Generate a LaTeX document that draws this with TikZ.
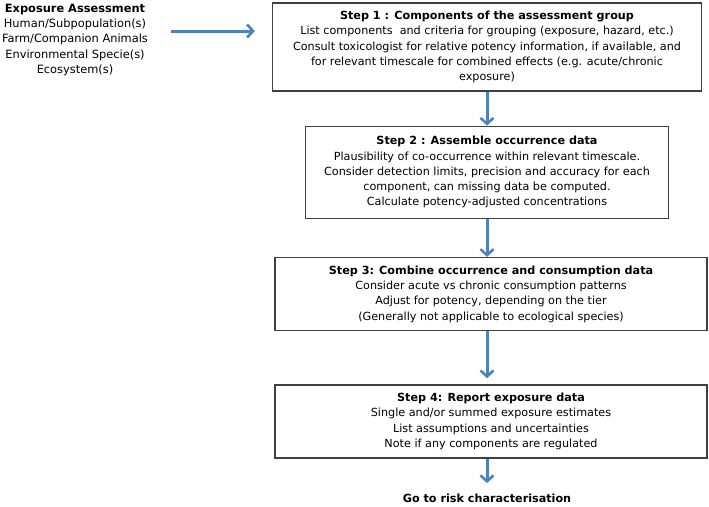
\documentclass[tikz,border=0pt]{standalone}
\usepackage{fontspec}
\setmainfont{DejaVu Sans}
\usetikzlibrary{positioning,arrows.meta}
\definecolor{arrowblue}{RGB}{79,129,189}
\tikzstyle{stepbox} = [rectangle, draw=black!75, line width=1.3pt, align=center,
    inner sep=2pt, font=\fontsize{11.2}{15.3}\selectfont]
\tikzstyle{flow} = [draw=arrowblue, line width=3pt,
    -{Straight Barb[length=6pt,width=13pt,line width=2.6pt]}]

\begin{document}
\begin{tikzpicture}[x=1pt,y=-1pt,node distance=34pt]
  \useasboundingbox (0,0) rectangle (709,506);
  \node[align=center, font=\fontsize{11.4}{15.3}\selectfont] (src) at (75,40)
    {\textbf{Exposure Assessment}\\Human/Subpopulation(s)\\Farm/Companion Animals\\
     Environmental Specie(s)\\Ecosystem(s)};
  \node[stepbox, minimum width=429pt, minimum height=88pt] (s1) at (487,47)
    {\textbf{Step 1 : Components of the assessment group}\\
     List components\ \ and criteria for grouping (exposure, hazard, etc.)\\
     Consult toxicologist for relative potency information, if available, and\\
     for relevant timescale for combined effects (e.g. acute/chronic\\
     exposure)};
  \node[stepbox, minimum width=363pt, minimum height=92pt] (s2) [below=34pt of s1]
    {\textbf{Step 2 : Assemble occurrence data}\\
     Plausibility of co-occurrence within relevant timescale.\\
     Consider detection limits, precision and accuracy for each\\
     component, can missing data be computed.\\
     Calculate potency-adjusted concentrations};
  \node[stepbox, minimum width=432pt, minimum height=73pt] (s3) [below=38pt of s2, xshift=4pt]
    {\textbf{Step 3: Combine occurrence and consumption data}\\
     Consider acute vs chronic consumption patterns\\
     Adjust for potency, depending on the tier\\
     (Generally not applicable to ecological species)};
  \node[stepbox, minimum width=432pt, minimum height=73pt] (s4) [below=53pt of s3]
    {\textbf{Step 4: Report exposure data}\\
     Single and/or summed exposure estimates\\
     List assumptions and uncertainties\\
     Note if any components are regulated};
  \node[font=\fontsize{11.2}{15.3}\selectfont\bfseries] (risk) at (487,498)
    {Go to risk characterisation};

  \path[flow] (src.east |- 0,31) [shorten <=20pt, shorten >=17pt] -- (s1.west |- 0,31);
  \path[flow] (s1.south) -- (s1.south |- s2.north);
  \path[flow] (s2.south) -- (s2.south |- s3.north);
  \path[flow, shorten >=6pt] (s3.south -| s2.south) -- (s2.south |- s4.north);
  \path[flow, shorten >=7pt] (s2.south |- s4.south) -- (risk);
\end{tikzpicture}
\end{document}
